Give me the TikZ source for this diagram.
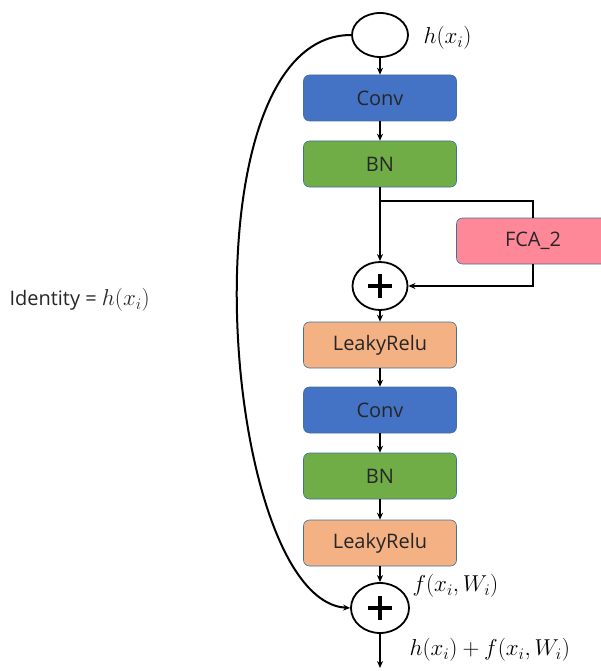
\RequirePackage{fix-cm}
\documentclass[tikz,border=0pt]{standalone}
\usepackage{amsmath}
\usepackage{fontspec}
\setmainfont{Open Sans}
\usepackage{tikz}
\usetikzlibrary{arrows.meta,positioning,shapes.geometric}

\definecolor{convblue}{HTML}{4472C4}
\definecolor{bngreen}{HTML}{70AD47}
\definecolor{fcapink}{HTML}{FF8898}
\definecolor{reluorange}{HTML}{F4B183}
\definecolor{blockline}{HTML}{41719C}

\newcommand{\mathsize}{\fontsize{23}{26}\selectfont}

\begin{document}
\begin{tikzpicture}[x=1pt, y=-1pt, >={Stealth[length=7pt,width=6pt]},
    every node/.append style={font=\fontsize{20}{24}\selectfont, text=black!85},
    block/.style={draw=blockline, line width=0.6pt, rounded corners=6pt,
      minimum width=153pt, minimum height=46pt, inner sep=0pt},
    addnode/.style={draw, ellipse, line width=1.8pt, minimum width=55pt, minimum height=48pt,
      path picture={\draw[line width=4.5pt]
        ([xshift=-12pt]path picture bounding box.center) -- ([xshift=12pt]path picture bounding box.center)
        ([yshift=-12pt]path picture bounding box.center) -- ([yshift=12pt]path picture bounding box.center);}},
    mathlabel/.style={anchor=west, font=\mathsize, text=black},
    flow/.style={line width=1.6pt}]
    \useasboundingbox (0,0) rectangle (601,671);
    % main column
    \node (input) [draw, ellipse, line width=1.8pt, minimum width=56pt, minimum height=44pt] at (380,35) {};
    \node (conv1) [block, fill=convblue] at (380,98) {Conv};
    \node (bn1) [block, fill=bngreen] at (380,164) {BN};
    \node (fca) [block, fill=fcapink] at (533,241) {FCA\_2};
    \node (add1) [addnode] at (380,286) {};
    \node (relu1) [block, fill=reluorange] at (380,345) {LeakyRelu};
    \node (conv2) [block, fill=convblue] at (380,410) {Conv};
    \node (bn2) [block, fill=bngreen] at (380,476) {BN};
    \node (relu2) [block, fill=reluorange] at (380,543) {LeakyRelu};
    \node (add2) [addnode, minimum width=58pt, minimum height=50pt] at (380,608) {};
    \coordinate (split) at (380,201);
    \coordinate (out) at (380,668);
    % labels
    \node (hx) [mathlabel] at (420,38) {$h(x_i)$};
    \node (fx) [mathlabel] at (409,586) {$f(x_i,W_i)$};
    \node (sum) [mathlabel] at (406,650) {$h(x_i)+f(x_i,W_i)$};
    \node (ident) [anchor=west] at (6,300) {Identity = {\mathsize$h(x_i)$}};
    % connections
    \draw[flow, ->] (input) -- (conv1);
    \draw[flow, ->] (conv1) -- (bn1);
    \draw[flow, ->] (bn1) -- (add1);
    \draw[flow] (split) -| (fca.north);
    \draw[flow, ->] (fca.south) |- (add1.east);
    \draw[flow, ->] (add1) -- (relu1);
    \draw[flow, ->] (relu1) -- (conv2);
    \draw[flow, ->] (conv2) -- (bn2);
    \draw[flow, ->] (bn2) -- (relu2);
    \draw[flow, ->] (relu2) -- (add2);
    \draw[flow, ->] (add2) -- (out);
    % identity shortcut
    \draw[line width=2pt, ->] (input.west) .. controls (180,35) and (220,600) .. (add2.west);
\end{tikzpicture}
\end{document}
